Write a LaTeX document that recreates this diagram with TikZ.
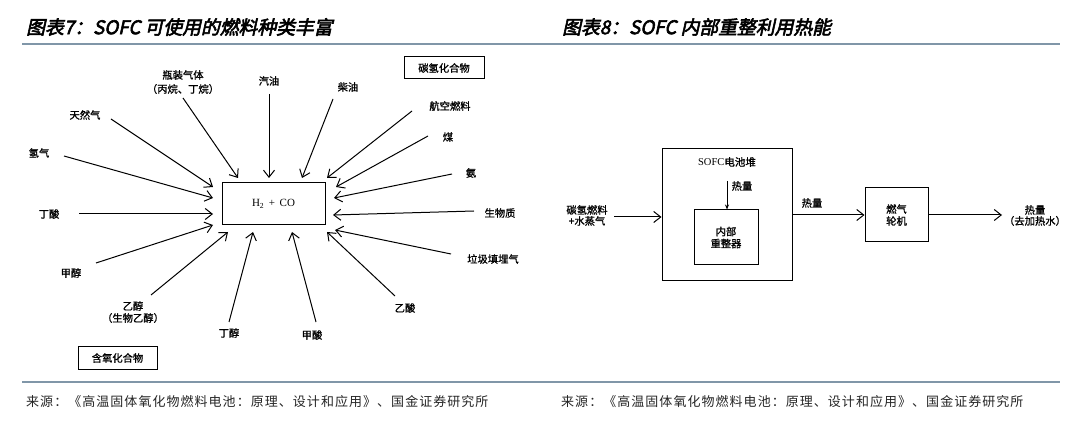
\documentclass[tikz,border=0pt]{standalone}
\usepackage{fontspec}
\setmainfont{Liberation Serif}
\newfontfamily\cjk{Noto Sans CJK SC}[FakeBold=1]
\newfontfamily\cjksrc{Noto Sans CJK SC}[LetterSpace=8]
\newfontfamily\cjktitle{Noto Sans CJK SC}[FakeSlant=0.22,FakeBold=3]
\usetikzlibrary{arrows.meta}
\definecolor{rulecol}{HTML}{8096A8}
\begin{document}
\begin{tikzpicture}[x=1pt,y=-1pt,
  lbl/.style={font=\cjk\fontsize{10.3}{11}\selectfont, inner sep=0pt, align=center},
  ttl/.style={font=\cjktitle\fontsize{18.8}{20}\selectfont, inner sep=0pt, anchor=west},
  src/.style={font=\cjksrc\fontsize{13}{14}\selectfont, inner sep=0pt, anchor=west, text=black!85},
  arr/.style={draw, line width=1pt, -{Straight Barb[length=7pt,width=11pt,line width=1pt]}},
  sarr/.style={draw, line width=0.9pt, -{Stealth[length=5pt,width=4pt]}},
  box/.style={draw, line width=1pt, inner sep=0pt},
  rule/.style={draw=rulecol, line width=1.2pt}]
\useasboundingbox (0,0) rectangle (1080,422);
\fill[white] (0,0) rectangle (1080,422);

% titles and rules
\node[ttl] (t1) at (26,27) {图表7：SOFC 可使用的燃料种类丰富};
\node[ttl] (t2) at (562,27) {图表8：SOFC 内部重整利用热能};
\coordinate (r1a) at (22,44); \coordinate (r1b) at (1060,44);
\draw[rule] (r1a) -- (r1b);
\coordinate (r2a) at (22,382); \coordinate (r2b) at (1060,382);
\draw[rule] (r2a) -- (r2b);
\node[src] (s1) at (26,402) {来源：《高温固体氧化物燃料电池：原理、设计和应用》、国金证券研究所};
\node[src] (s2) at (561,402) {来源：《高温固体氧化物燃料电池：原理、设计和应用》、国金证券研究所};

% ---------- left diagram ----------
\node[box, minimum width=103pt, minimum height=42pt, font=\fontsize{11}{12}\selectfont] (hc) at (273.5,204) {H\textsubscript{2} \,+\, CO};
\node[box, minimum width=80pt, minimum height=22pt, lbl] (hcb) at (444,68) {碳氢化合物};
\node[box, minimum width=79pt, minimum height=22pt, lbl] (oxb) at (117.5,358) {含氧化合物};

\node[lbl] (l1) at (85,115) {天然气};
\node[lbl] (l2) at (39,153) {氢气};
\node[lbl] (l3a) at (183,75) {瓶装气体};
\node[lbl] (l3b) at (183,89) {（丙烷、丁烷）};
\node[lbl] (l4) at (269,81) {汽油};
\node[lbl] (l5) at (348,87) {柴油};
\node[lbl] (l6) at (450,106) {航空燃料};
\node[lbl] (l7) at (448,137) {煤};
\node[lbl] (l8) at (471,173) {氨};
\node[lbl] (l9) at (500,213) {生物质};
\node[lbl] (l10) at (493,259) {垃圾填埋气};
\node[lbl] (l11) at (405,308) {乙酸};
\node[lbl] (l12) at (312,335) {甲酸};
\node[lbl] (l13) at (229,333) {丁醇};
\node[lbl] (l14a) at (133,306) {乙醇};
\node[lbl] (l14b) at (133,318) {（生物乙醇）};
\node[lbl] (l15) at (71,273) {甲醇};
\node[lbl] (l16) at (49,214) {丁酸};

\foreach \n/\sx/\sy/\ex/\ey in {
  1/111/119/213/187, 2/64/156/213/198, 3/183/98/238/178, 4/269/94/269/178,
  5/333/99/302/178, 6/412/111/327/178, 7/428/136/336/187, 8/452/174/334/198,
  9/474/211/333/215, 10/451/254/335/230, 11/395/296/327/232, 12/316/322/292/232,
  13/229/322/253/232, 14/151/295/228/232, 15/96/263/213/225, 16/79/214/213/214}{
  \coordinate (a\n) at (\sx,\sy);
  \coordinate (b\n) at (\ex,\ey);
  \draw[arr] (a\n) -- (b\n);
}

% ---------- right diagram ----------
\node[box, minimum width=130pt, minimum height=132pt] (stack) at (727,215) {};
\node[font=\fontsize{10.5}{12}\selectfont, inner sep=0pt] (stl) at (727,162) {SOFC{\cjk 电池堆}};
\node[box, minimum width=64pt, minimum height=55pt, lbl] (ref) at (726,237.5) {内部\\[1pt]重整器};
\node[lbl] (hq1) at (742,186) {热量};
\coordinate (hqs) at (727,181);
\draw[sarr] (hqs) -- (ref.north -| hqs);

\node[lbl] (fuel) at (587,215.5) {碳氢燃料\\+水蒸气};
\coordinate (fs) at (614,217);
\draw[arr] (fs) -- (stack.west |- fs);

\node[box, minimum width=63pt, minimum height=54pt, lbl] (gt) at (896.5,215) {燃气\\[1pt]轮机};
\draw[arr] (stack.east |- gt) -- (gt.west);
\node[lbl] (hq2) at (812,203) {热量};

\coordinate (out) at (1002,215);
\draw[arr] (gt.east) -- (out);
\node[lbl] (hq3) at (1035,215.5) {热量\\（去加热水）};
\end{tikzpicture}
\end{document}
